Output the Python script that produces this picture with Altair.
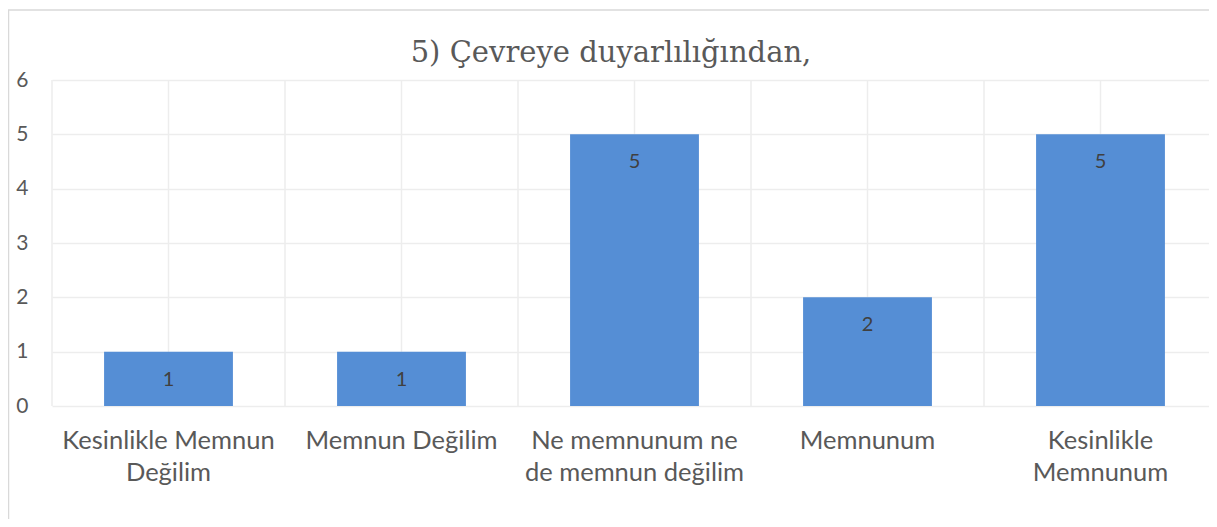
import altair as alt
import pandas as pd

categories = [
    "Kesinlikle Memnun\nDeğilim",
    "Memnun Değilim",
    "Ne memnunum ne\nde memnun değilim",
    "Memnunum",
    "Kesinlikle\nMemnunum",
]
values = [1, 1, 5, 2, 5]
y_ticks = [0, 1, 2, 3, 4, 5, 6]
boundaries = [0, 1, 2, 3, 4, 5]  # category band edges (in category units)
title_text = "5) Çevreye duyarlılığından,"

df = pd.DataFrame({"cat": categories, "val": values})

TXT = "#595959"
GRID = "#EDEDED"
BAR = "#558ED5"

xscale = alt.Scale(domain=categories, range=[0, 1165], paddingInner=0.447, paddingOuter=0.2235)
yscale = alt.Scale(domain=[0, 6], nice=False)

x_axis = alt.Axis(
    title=None,
    labelAngle=0,
    labelExpr="split(datum.label, '\\n')",
    labelFont="Lato",
    labelFontSize=25.5,
    labelColor=TXT,
    labelLineHeight=32,
    labelPadding=22,
    labelBaseline="top",
    labelAlign="center",
    labelLimit=400,
    ticks=False,
    domain=False,
    grid=False,
)
y_axis = alt.Axis(
    title=None,
    values=y_ticks,
    format="d",
    labelFont="Lato",
    labelFontSize=21,
    labelColor=TXT,
    labelPadding=24,
    ticks=False,
    domain=False,
    grid=True,
    gridColor=GRID,
    gridWidth=1.5,
)

base = alt.Chart(df)

centers = base.mark_rule(color=GRID, strokeWidth=1.5).encode(
    x=alt.X("cat:N", scale=xscale, sort=categories, axis=x_axis),
    y=alt.value(0),
    y2=alt.value(326),
)
bounds = alt.Chart(pd.DataFrame({"b": boundaries})).mark_rule(color=GRID, strokeWidth=1.5).encode(
    x=alt.X("b:Q", scale=alt.Scale(domain=[0, 5], range=[0, 1165], nice=False, zero=False), axis=None),
    y=alt.value(0),
    y2=alt.value(326),
)

bars = base.mark_bar(color=BAR).encode(
    x=alt.X("cat:N", scale=xscale, sort=categories, axis=x_axis),
    y=alt.Y("val:Q", scale=yscale, axis=y_axis),
)

labels = base.mark_text(
    font="Lato", fontSize=20, color="#404040", dy=28, baseline="middle"
).encode(
    x=alt.X("cat:N", scale=xscale, sort=categories, axis=x_axis),
    y=alt.Y("val:Q", scale=yscale, axis=y_axis),
    text="val:Q",
)

single = alt.Chart(pd.DataFrame({"t": [title_text]}))

title = single.mark_text(
    font="DejaVu Serif", fontSize=29, color=TXT, align="center", baseline="alphabetic", clip=False
).encode(x=alt.value(559), y=alt.value(-18), text="t:N")

border = single.mark_rect(
    fill=None, stroke="#D9D9D9", strokeWidth=1.5, clip=False
).encode(
    x=alt.value(-43.5), x2=alt.value(1164), y=alt.value(-70), y2=alt.value(460)
)

main = alt.layer(centers, bars, labels)

chart = (
    alt.layer(bounds, main, title, border)
    .resolve_scale(x="independent")
    .properties(
        width=1157,
        height=326,
        autosize="none",
        padding={"left": 44, "top": 72, "right": 0, "bottom": 113},
    )
    .configure_view(stroke=None)
    .configure_axis(labelFont="Lato", labelColor=TXT)
)

chart.save("out.html", embed_options={"renderer": "svg", "actions": False})
